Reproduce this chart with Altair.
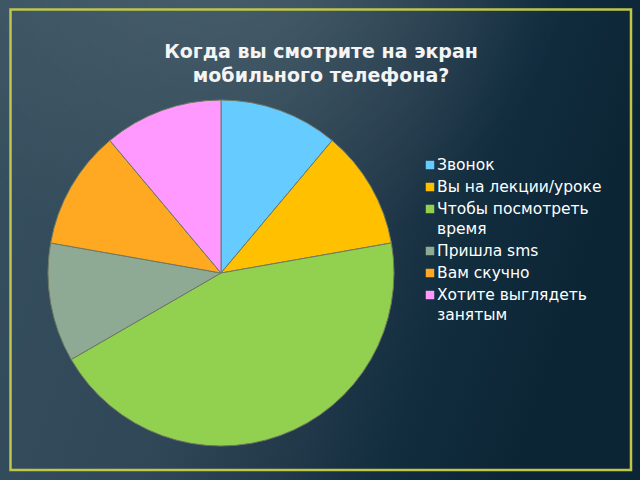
import altair as alt
import pandas as pd

# ---- data ----
categories = ["Звонок", "Вы на лекции/уроке", "Чтобы посмотреть время",
              "Пришла sms", "Вам скучно", "Хотите выглядеть занятым"]
values = [1, 1, 4, 1, 1, 1]
colors = ["#66CCFF", "#FFC000", "#92D050", "#8FAA94", "#FFA922", "#FF99FF"]
legend_labels = ["Звонок", "Вы на лекции/уроке", "Чтобы посмотреть\nвремя",
                 "Пришла sms", "Вам скучно", "Хотите выглядеть\nзанятым"]
title_lines = ["Когда вы смотрите на экран", "мобильного телефона?"]

# ---- tables ----
pie_df = pd.DataFrame({"cat": categories, "value": values,
                       "idx": list(range(len(categories)))})

sym_rows, txt_rows = [], []
y = 165
for cat, lab in zip(categories, legend_labels):
    lines = lab.split("\n")
    sym_rows.append({"cat": cat, "y": y})
    for j, ln in enumerate(lines):
        txt_rows.append({"line": ln, "y": y + 20 * j})
    y += 22 + 20 * (len(lines) - 1)
sym_df = pd.DataFrame(sym_rows)
txt_df = pd.DataFrame(txt_rows)

one = alt.InlineData(values=[{}])

color_scale = alt.Scale(domain=categories, range=colors)

bg_grad = {"gradient": "linear", "x1": 0, "y1": 0, "x2": 1, "y2": 0.25,
           "stops": [{"offset": 0, "color": "#37505f"},
                     {"offset": 0.45, "color": "#2f4756"},
                     {"offset": 0.65, "color": "#22394a"},
                     {"offset": 0.8, "color": "#112d3e"},
                     {"offset": 1, "color": "#0c2535"}]}
hl_grad = {"gradient": "radial", "x1": 0.35, "y1": 0.0, "r1": 0,
           "x2": 0.35, "y2": 0.0, "r2": 0.55,
           "stops": [{"offset": 0, "color": "rgba(120,135,145,0.35)"},
                     {"offset": 1, "color": "rgba(120,135,145,0)"}]}

bg = alt.Chart(one).mark_rect(fill=bg_grad).encode(
    x=alt.value(0), x2=alt.value(640), y=alt.value(0), y2=alt.value(480))
hl = alt.Chart(one).mark_rect(fill=hl_grad).encode(
    x=alt.value(0), x2=alt.value(640), y=alt.value(0), y2=alt.value(480))
border = alt.Chart(one).mark_rect(fillOpacity=0, stroke="#BFC64A", strokeWidth=2.5).encode(
    x=alt.value(10.5), x2=alt.value(631), y=alt.value(9.5), y2=alt.value(470))

pie = alt.Chart(pie_df).mark_arc(outerRadius=173, stroke="#6f7862", strokeWidth=1).encode(
    theta=alt.Theta("value:Q", stack=True),
    color=alt.Color("cat:N", scale=color_scale, legend=None),
    order=alt.Order("idx:Q"),
    x=alt.value(221), y=alt.value(273))

syms = alt.Chart(sym_df).mark_square(size=72, opacity=1).encode(
    x=alt.value(430), y=alt.Y("y:Q", scale=None),
    color=alt.Color("cat:N", scale=color_scale, legend=None))

texts = alt.Chart(txt_df).mark_text(align="left", baseline="middle", font="DejaVu Sans",
                                    fontSize=15.5, color="white").encode(
    x=alt.value(437), y=alt.Y("y:Q", scale=None), text="line:N")

title = alt.Chart(one).mark_text(text=title_lines, font="DejaVu Sans", fontWeight="bold",
                                 fontSize=19, color="#f4f4f4", align="center",
                                 baseline="alphabetic", lineHeight=24).encode(
    x=alt.value(321), y=alt.value(58))

chart = alt.layer(bg, hl, border, pie, syms, texts, title).properties(
    width=640, height=480, autosize=alt.AutoSizeParams(type="none"), padding=0,
    background="#0e2a3a"
).configure_view(stroke=None)

chart.save("out.html", embed_options={"renderer": "svg", "actions": False})
